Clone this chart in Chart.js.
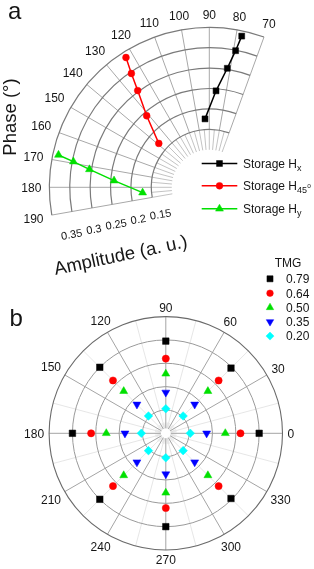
<!DOCTYPE html>
<html><head><meta charset="utf-8">
<script src="https://cdn.jsdelivr.net/npm/chart.js@4.4.1/dist/chart.umd.min.js"></script>
<style>html,body{margin:0;padding:0;background:#fff;overflow:hidden}canvas{display:block}</style>
</head><body>
<canvas id="c" width="314" height="569"></canvas>
<script>
// ---------- Panel a data ----------
const phaseTicksA = [70, 80, 90, 100, 110, 120, 130, 140, 150, 160, 170, 180, 190];
const ampRingsA = [0.15, 0.2, 0.25, 0.3, 0.35, 0.4];
const ampTickValuesA = [0.15, 0.2, 0.25, 0.3, 0.35];
const ampTickLabelsA = ['0.15', '0.2', '0.25', '0.3', '0.35'];
const phaseHx  = [77.9, 79.1, 81.4, 86.0, 93.6];
const ampHx    = [0.387, 0.349, 0.303, 0.245, 0.176];
const phaseH45 = [122.7, 124.4, 126.5, 131.2, 139.0];
const ampH45   = [0.386, 0.346, 0.303, 0.241, 0.172];
const phaseHy  = [167.9, 169.3, 171.5, 176.0, 184.6];
const ampHy    = [0.386, 0.347, 0.305, 0.242, 0.172];
const legendBaseA = 'Storage H';
const legendSubA = ['x', '45', 'y'];

// ---------- Panel b data ----------
const angleTicksB = [0, 30, 60, 90, 120, 150, 180, 210, 240, 270, 300, 330];
const ringValuesB = [0.2, 0.4, 0.6, 0.8, 1.0];
const anglesB = [0, 45, 90, 135, 180, 225, 270, 315];
const tmgLabels = ['0.79', '0.64', '0.50', '0.35', '0.20'];
const radiusTMG079 = [0.80, 0.79, 0.79, 0.80, 0.80, 0.80, 0.80, 0.79];
const radiusTMG064 = [0.64, 0.64, 0.64, 0.64, 0.64, 0.64, 0.64, 0.64];
const radiusTMG050 = [0.51, 0.51, 0.51, 0.51, 0.51, 0.51, 0.51, 0.51];
const radiusTMG035 = [0.35, 0.35, 0.35, 0.35, 0.35, 0.35, 0.35, 0.35];
const radiusTMG020 = [0.21, 0.21, 0.21, 0.21, 0.21, 0.21, 0.21, 0.21];

// ---------- layout ----------
const W = 314, H = 569;
const FONT = "'Liberation Sans', Arial, Helvetica, sans-serif";
const TXT = '#151515';
const LA = {cx: 209.3, cy: 187.3, k: 408, r0: 0.008};   // panel a polar frame
const LB = {cx: 165.8, cy: 433.3, k: 116.7, r0: 0};      // panel b polar frame

function toXY(r, deg, r0) {
  const t = deg * Math.PI / 180;
  return {x: (r - r0) * Math.cos(t), y: (r - r0) * Math.sin(t)};
}

const seriesA = [
  {phase: phaseHx,  amp: ampHx,  color: '#000000', style: 'rect',     radius: 4.2, rot: 0},
  {phase: phaseH45, amp: ampH45, color: '#ff0000', style: 'circle',   radius: 3.4, rot: 0},
  {phase: phaseHy,  amp: ampHy,  color: '#00e000', style: 'triangle', radius: 4.6, rot: 0}
];
const seriesB = [
  {r: radiusTMG079, color: '#000000', style: 'rect',     radius: 4.6, rot: 0},
  {r: radiusTMG064, color: '#ff0000', style: 'circle',   radius: 3.6, rot: 0},
  {r: radiusTMG050, color: '#00e000', style: 'triangle', radius: 4.6, rot: 0},
  {r: radiusTMG035, color: '#0000ff', style: 'triangle', radius: 4.6, rot: 180},
  {r: radiusTMG020, color: '#00ffff', style: 'rectRot',  radius: 4.3, rot: 0}
];

const datasets = [];
seriesA.forEach(s => datasets.push({
  data: s.phase.map((p, i) => toXY(s.amp[i], p, LA.r0)),
  xAxisID: 'xa', yAxisID: 'ya', showLine: true, tension: 0,
  borderColor: s.color, backgroundColor: s.color, borderWidth: 1.5,
  pointStyle: s.style, pointRadius: s.radius, pointRotation: s.rot,
  pointBackgroundColor: s.color, pointBorderColor: s.color, pointBorderWidth: 0.5
}));
seriesB.forEach(s => datasets.push({
  data: anglesB.map((a, i) => toXY(s.r[i], a, LB.r0)),
  xAxisID: 'xb', yAxisID: 'yb', showLine: false,
  borderColor: s.color, backgroundColor: s.color,
  pointStyle: s.style, pointRadius: s.radius, pointRotation: s.rot,
  pointBackgroundColor: s.color, pointBorderColor: s.color, pointBorderWidth: 0.5
}));

function frame(chart, xid, yid, r0) {
  const xs = chart.scales[xid], ys = chart.scales[yid];
  const cx = xs.getPixelForValue(0), cy = ys.getPixelForValue(0);
  const unit = xs.getPixelForValue(1) - cx;
  return {cx, cy, rp: v => (v - r0) * unit};
}
function rad(d) { return d * Math.PI / 180; }
function spoke(ctx, f, deg, r1, r2) {
  const c = Math.cos(rad(deg)), s = Math.sin(rad(deg));
  ctx.beginPath();
  ctx.moveTo(f.cx + r1 * c, f.cy - r1 * s);
  ctx.lineTo(f.cx + r2 * c, f.cy - r2 * s);
  ctx.stroke();
}
function marker(ctx, style, x, y, r, rot, color) {
  ctx.save();
  ctx.fillStyle = color; ctx.strokeStyle = color; ctx.lineWidth = 0.5;
  ctx.translate(x, y); ctx.rotate(rad(rot));
  ctx.beginPath();
  if (style === 'rect') { const s = Math.SQRT1_2 * r; ctx.rect(-s, -s, 2 * s, 2 * s); }
  else if (style === 'circle') { ctx.arc(0, 0, r, 0, Math.PI * 2); }
  else if (style === 'triangle') {
    for (let i = 0; i < 3; i++) { const a = i * 2 * Math.PI / 3; const px = Math.sin(a) * r, py = -Math.cos(a) * r; i ? ctx.lineTo(px, py) : ctx.moveTo(px, py); }
    ctx.closePath();
  } else if (style === 'rectRot') { ctx.moveTo(0, -r); ctx.lineTo(r, 0); ctx.lineTo(0, r); ctx.lineTo(-r, 0); ctx.closePath(); }
  ctx.fill(); ctx.stroke();
  ctx.restore();
}
function angLabel(ctx, text, f, R, deg, gap, fs) {
  const w = ctx.measureText(text).width, h = fs * 0.716;
  const c = Math.cos(rad(deg)), s = Math.sin(rad(deg));
  const d = R + gap + Math.abs(c) * w / 2 + Math.abs(s) * h / 2;
  ctx.textAlign = 'center'; ctx.textBaseline = 'alphabetic';
  ctx.fillText(text, f.cx + d * c, f.cy - d * s + h / 2);
}

const polarPlugin = {
  id: 'polarGrid',
  beforeDatasetsDraw(chart) {
    const ctx = chart.ctx;
    // ----- panel a grid -----
    const fa = frame(chart, 'xa', 'ya', LA.r0);
    const rIn = fa.rp(ampRingsA[0]), rOut = fa.rp(ampRingsA[ampRingsA.length - 1]), rHole = fa.rp(0.1);
    ctx.save();
    ctx.strokeStyle = '#b4b4b4'; ctx.lineWidth = 0.8;
    for (let d = phaseTicksA[0]; d <= phaseTicksA[phaseTicksA.length - 1]; d += 5) spoke(ctx, fa, d, rHole, rIn);
    ctx.strokeStyle = '#a8a8a8'; ctx.lineWidth = 1;
    phaseTicksA.forEach(d => spoke(ctx, fa, d, rIn, rOut));
    ctx.strokeStyle = '#7a7a7a'; ctx.lineWidth = 1.2;
    ampRingsA.forEach(v => {
      ctx.beginPath();
      ctx.arc(fa.cx, fa.cy, fa.rp(v), -rad(phaseTicksA[phaseTicksA.length - 1]), -rad(phaseTicksA[0]));
      ctx.stroke();
    });
    ctx.restore();
    // ----- panel b grid -----
    const fb = frame(chart, 'xb', 'yb', LB.r0);
    const RB = fb.rp(ringValuesB[ringValuesB.length - 1]);
    ctx.save();
    ctx.strokeStyle = '#e0e0e0'; ctx.lineWidth = 0.8;
    for (let d = 15; d < 360; d += 30) spoke(ctx, fb, d, 5, RB);
    ctx.strokeStyle = '#d2d2d2'; ctx.lineWidth = 0.5;
    for (let d = 0; d < 360; d += 10) spoke(ctx, fb, d, 5, 11);
    ctx.strokeStyle = '#a4a4a4'; ctx.lineWidth = 1;
    angleTicksB.forEach(d => spoke(ctx, fb, d, 5, RB));
    ringValuesB.forEach((v, i) => {
      ctx.strokeStyle = i === ringValuesB.length - 1 ? '#6a6a6a' : '#9a9a9a';
      ctx.lineWidth = i === ringValuesB.length - 1 ? 1.1 : 1;
      ctx.beginPath(); ctx.arc(fb.cx, fb.cy, fb.rp(v), 0, Math.PI * 2); ctx.stroke();
    });
    ctx.restore();
  },
  afterDatasetsDraw(chart) {
    const ctx = chart.ctx;
    ctx.save();
    ctx.fillStyle = TXT;
    // ----- panel a texts -----
    const fa = frame(chart, 'xa', 'ya', LA.r0);
    const rOutA = fa.rp(ampRingsA[ampRingsA.length - 1]);
    ctx.font = '12px ' + FONT;
    phaseTicksA.forEach(d => angLabel(ctx, String(d), fa, rOutA, d, 8, 12));
    // amplitude tick labels along the 190 deg edge
    const edge = phaseTicksA[phaseTicksA.length - 1];
    const ec = Math.cos(rad(edge)), es = Math.sin(rad(edge));
    const tx = -Math.sin(rad(edge)), ty = -Math.cos(rad(edge)); // outward tangent (screen)
    ctx.font = '11px ' + FONT;
    ampTickValuesA.forEach((v, i) => {
      const r = fa.rp(v);
      const rl = 1.116 * r - 11.9;
      const t = 18.8 + 0.053 * (r - 57.9);
      const x = fa.cx + rl * ec + t * tx;
      const y = fa.cy - rl * es + t * ty;
      ctx.save(); ctx.translate(x, y); ctx.rotate(-rad(10));
      ctx.textAlign = 'center'; ctx.textBaseline = 'middle';
      ctx.fillText(ampTickLabelsA[i], 0, 0);
      ctx.restore();
    });
    // axis titles
    ctx.font = '18.5px ' + FONT;
    ctx.save(); ctx.translate(122, 261); ctx.rotate(-rad(12));
    ctx.textAlign = 'center'; ctx.textBaseline = 'alphabetic';
    ctx.fillText('Amplitude (a. u.)', 0, 0); ctx.restore();
    ctx.save(); ctx.translate(15.5, 117); ctx.rotate(-Math.PI / 2);
    ctx.textAlign = 'center'; ctx.textBaseline = 'alphabetic';
    ctx.fillText('Phase (\u00b0)', 0, 0); ctx.restore();
    // panel letters
    ctx.font = '24px ' + FONT; ctx.textAlign = 'left'; ctx.textBaseline = 'alphabetic';
    ctx.fillText('a', 8, 18.5);
    ctx.fillText('b', 9.5, 325.5);
    // legend a
    const rowsA = [163.5, 185.8, 208.8];
    seriesA.forEach((s, i) => {
      const y = rowsA[i];
      ctx.strokeStyle = s.color; ctx.lineWidth = 1.5;
      ctx.beginPath(); ctx.moveTo(201.7, y); ctx.lineTo(237.3, y); ctx.stroke();
      marker(ctx, s.style, 219.5, y, s.radius, s.rot, s.color);
      ctx.fillStyle = TXT; ctx.textAlign = 'left'; ctx.textBaseline = 'alphabetic';
      ctx.font = '12px ' + FONT;
      const base = y + 4.3;
      ctx.fillText(legendBaseA, 243, base);
      let x = 243 + ctx.measureText(legendBaseA).width;
      ctx.font = '9px ' + FONT;
      ctx.fillText(legendSubA[i], x, base + 3);
      if (legendSubA[i] === '45') {
        x += ctx.measureText(legendSubA[i]).width + 0.3;
        ctx.font = '6.5px ' + FONT;
        ctx.fillText('o', x, base - 1.7);
      }
    });
    // ----- panel b texts -----
    const fb = frame(chart, 'xb', 'yb', LB.r0);
    const RB = fb.rp(ringValuesB[ringValuesB.length - 1]);
    ctx.fillStyle = TXT;
    ctx.font = '12px ' + FONT;
    angleTicksB.forEach(d => angLabel(ctx, String(d), fb, RB, d, 5, 12));
    // legend b
    ctx.textAlign = 'center'; ctx.textBaseline = 'alphabetic';
    ctx.fillText('TMG', 288, 266.8);
    const rowsB = [278.8, 293.2, 307.5, 321.8, 336.1];
    seriesB.forEach((s, i) => {
      marker(ctx, s.style, 270, rowsB[i], s.radius - 0.3, s.rot, s.color);
      ctx.fillStyle = TXT; ctx.textAlign = 'left';
      ctx.fillText(tmgLabels[i], 286, rowsB[i] + 4.3);
    });
    ctx.restore();
  }
};

const sa = {min: -LA.cx / LA.k, max: (W - LA.cx) / LA.k};
const saY = {min: -(H - LA.cy) / LA.k, max: LA.cy / LA.k};
const sb = {min: -LB.cx / LB.k, max: (W - LB.cx) / LB.k};
const sbY = {min: -(H - LB.cy) / LB.k, max: LB.cy / LB.k};

new Chart(document.getElementById('c'), {
  type: 'scatter',
  data: {datasets},
  options: {
    responsive: false, animation: false, devicePixelRatio: 1, events: [],
    layout: {padding: 0, autoPadding: false},
    plugins: {legend: {display: false}, tooltip: {enabled: false}, title: {display: false}},
    scales: {
      xa: {type: 'linear', axis: 'x', display: false, min: sa.min, max: sa.max},
      ya: {type: 'linear', axis: 'y', display: false, min: saY.min, max: saY.max},
      xb: {type: 'linear', axis: 'x', display: false, min: sb.min, max: sb.max},
      yb: {type: 'linear', axis: 'y', display: false, min: sbY.min, max: sbY.max}
    }
  },
  plugins: [polarPlugin]
});
</script>
</body></html>
